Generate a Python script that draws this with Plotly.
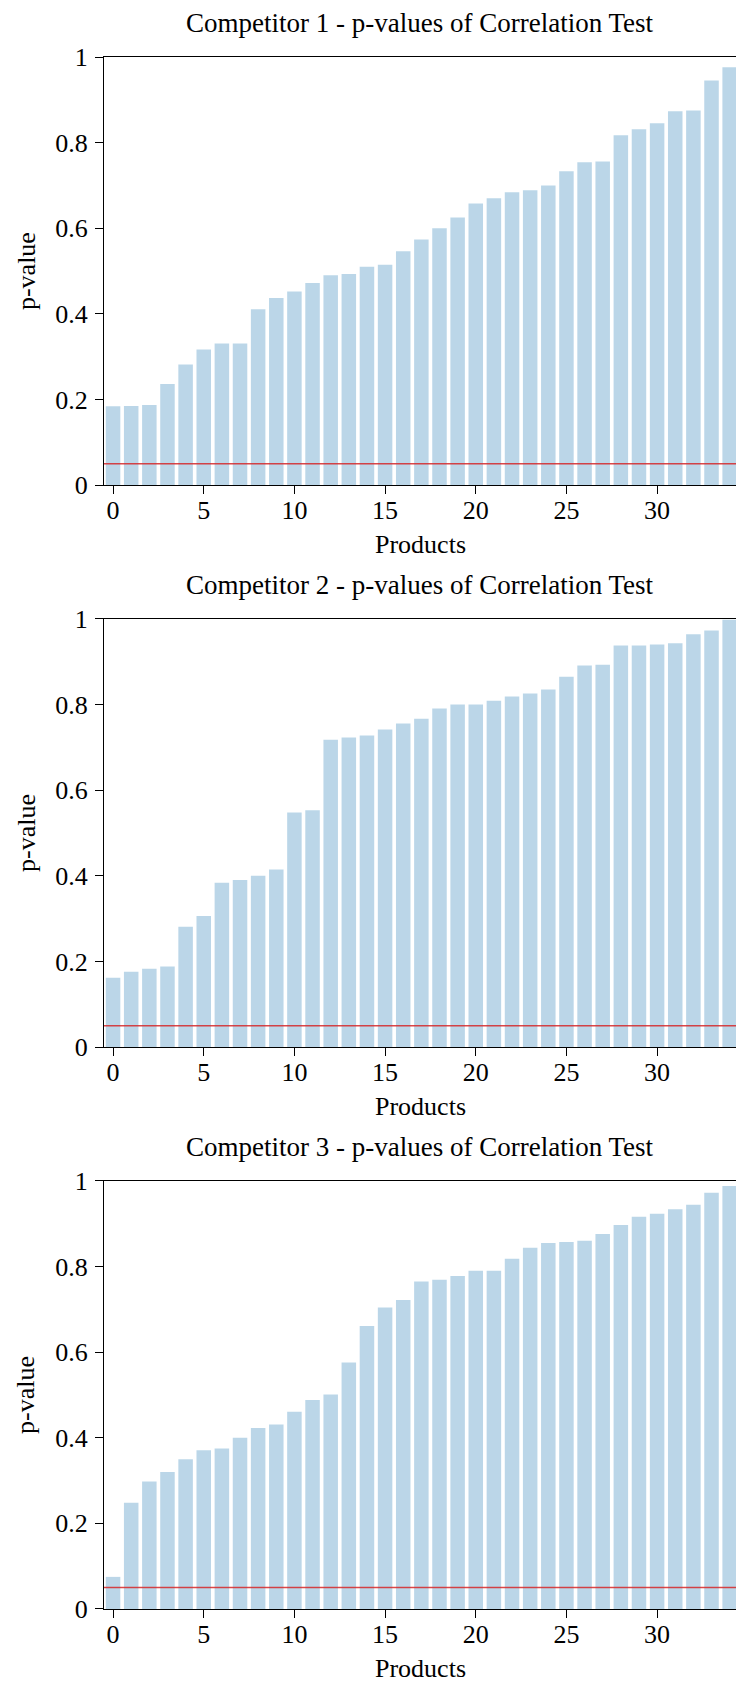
import plotly.graph_objects as go

# ---- data ----
products = list(range(35))
competitor_1 = [0.184, 0.185, 0.187, 0.236, 0.282, 0.317, 0.331, 0.331, 0.411, 0.437,
                0.452, 0.472, 0.490, 0.493, 0.510, 0.515, 0.546, 0.574, 0.600, 0.625,
                0.658, 0.670, 0.684, 0.689, 0.700, 0.733, 0.754, 0.756, 0.817, 0.831,
                0.845, 0.873, 0.875, 0.945, 0.976]
competitor_2 = [0.162, 0.176, 0.183, 0.188, 0.281, 0.306, 0.384, 0.390, 0.400, 0.415,
                0.548, 0.553, 0.718, 0.723, 0.728, 0.742, 0.756, 0.767, 0.791, 0.800,
                0.800, 0.809, 0.819, 0.826, 0.835, 0.865, 0.891, 0.893, 0.938, 0.938,
                0.940, 0.943, 0.964, 0.973, 0.998]
competitor_3 = [0.075, 0.248, 0.298, 0.320, 0.350, 0.371, 0.375, 0.400, 0.423, 0.431,
                0.461, 0.488, 0.501, 0.576, 0.661, 0.704, 0.722, 0.765, 0.769, 0.778,
                0.790, 0.790, 0.818, 0.844, 0.855, 0.857, 0.860, 0.876, 0.897, 0.916,
                0.923, 0.934, 0.944, 0.972, 0.988]
series = [competitor_1, competitor_2, competitor_3]
titles = ["Competitor 1 - p-values of Correlation Test",
          "Competitor 2 - p-values of Correlation Test",
          "Competitor 3 - p-values of Correlation Test"]
x_title = "Products"
y_title = "p-value"
threshold = 0.05
y_ticks = [0, 0.2, 0.4, 0.6, 0.8, 1]
y_ticklabels = ["0", "0.2", "0.4", "0.6", "0.8", "1"]
x_ticks = [0, 5, 10, 15, 20, 25, 30]

# ---- layout geometry ----
W, H = 736, 1682
m_l, m_r, m_t, m_b = 104.3, 0, 56.7, 72.7
panel_h = 428.3
total_h = H - m_t - m_b
gap_h = (total_h - 3 * panel_h) / 2

FONT = "Liberation Serif"
FS = 26
bar_color = "rgba(31,119,180,0.3)"

fig = go.Figure()
annotations = []
shapes = []
for i, vals in enumerate(series):
    k = "" if i == 0 else str(i + 1)
    top_px = i * (panel_h + gap_h)
    d_top = 1 - top_px / total_h
    d_bot = 1 - (top_px + panel_h) / total_h
    fig.add_trace(go.Bar(x=products, y=vals, marker=dict(color=bar_color, line=dict(width=0)),
                         xaxis="x" + k, yaxis="y" + k, showlegend=False))
    axis_common = dict(showgrid=False, zeroline=False, showline=True, linecolor="black",
                       linewidth=1, ticks="outside", tickcolor="black", tickwidth=1,
                       tickfont=dict(family=FONT, size=FS, color="black"))
    fig.update_layout(**{
        "xaxis" + k: dict(axis_common, domain=[0, 1], anchor="y" + k, range=[-0.5, 34.35],
                          tickvals=x_ticks, ticklen=8, mirror=True,
                          ticklabelstandoff=-6),
        "yaxis" + k: dict(axis_common, domain=[d_bot, d_top], anchor="x" + k, range=[0, 1],
                          tickvals=y_ticks, ticktext=y_ticklabels, ticklen=8,
                          ticklabelstandoff=2),
    })
    shapes.append(dict(type="line", xref="x" + k + " domain", yref="y" + k, x0=0, x1=1,
                       y0=threshold, y1=threshold,
                       line=dict(color="rgba(214,39,40,0.85)", width=1.5), layer="above"))
    annotations.append(dict(text=titles[i], xref="x" + k + " domain", yref="y" + k + " domain",
                            x=0.5, y=1, xanchor="center", yanchor="middle", yshift=34,
                            showarrow=False, font=dict(family=FONT, size=27, color="black")))
    annotations.append(dict(text=x_title, xref="x" + k + " domain", yref="y" + k + " domain",
                            x=0.5, y=0, xanchor="center", yanchor="middle", yshift=-59,
                            showarrow=False, font=dict(family=FONT, size=FS, color="black")))
    annotations.append(dict(text=y_title, xref="x" + k + " domain", yref="y" + k + " domain",
                            x=0, y=0.5, xanchor="center", yanchor="middle", xshift=-78,
                            textangle=-90, showarrow=False,
                            font=dict(family=FONT, size=FS, color="black")))

fig.update_layout(width=W, height=H, margin=dict(l=m_l, r=m_r, t=m_t, b=m_b, pad=0),
                  paper_bgcolor="white", plot_bgcolor="white", bargap=0.2,
                  annotations=annotations, shapes=shapes,
                  font=dict(family=FONT, size=FS, color="black"))
fig.write_html("out.html")
